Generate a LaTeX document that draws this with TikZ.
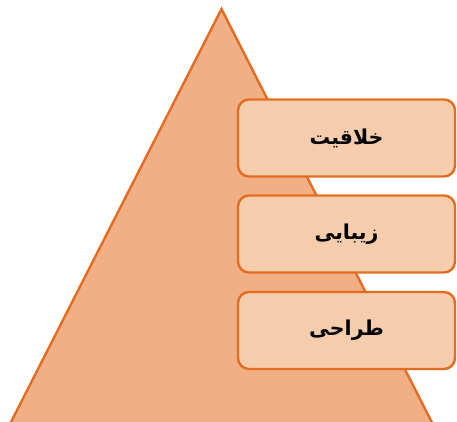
\documentclass[tikz,border=0pt]{standalone}
\usepackage{fontspec}
\newfontfamily\arabicfont[Script=Arabic]{DejaVu Sans}
\TeXXeTstate=1
\definecolor{tristroke}{HTML}{E46C22}
\definecolor{trifill}{HTML}{F0AF84}
\definecolor{boxfill}{HTML}{F6CDAC}
\tikzset{
  levelbox/.style={draw=tristroke, fill=boxfill, line width=2.4pt, rounded corners=11pt,
    minimum width=217pt, minimum height=77pt, inner sep=0pt,
    font=\arabicfont\bfseries\fontsize{20.5}{24}\selectfont}
}
\begin{document}
\begin{tikzpicture}[x=1pt,y=-1pt]
\useasboundingbox (0,0) rectangle (457,422);
\begin{scope}
\clip (0,0) rectangle (457,422);
\draw[draw=tristroke, fill=trifill, line width=2.4pt, line join=miter]
  (221.5,9) -- (5.9,432) -- (436.8,432) -- cycle;
\end{scope}
\node[levelbox] (b1) at (346.5,138) {\beginR خلاقیت\endR};
\node[levelbox] (b2) at (346.5,234) {\beginR زیبایی\endR};
\node[levelbox] (b3) at (346.5,330.5) {\beginR طراحی\endR};
\end{tikzpicture}
\end{document}
